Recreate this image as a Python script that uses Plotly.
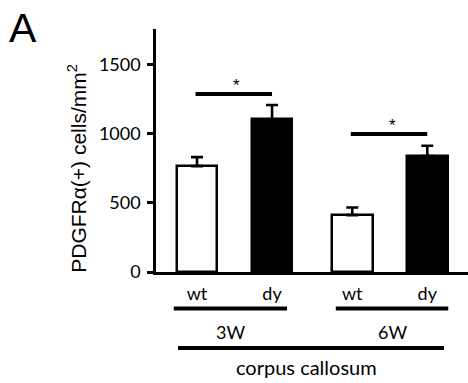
import plotly.graph_objects as go

# ---- data ----
genotypes = ["wt", "dy", "wt", "dy"]
ages = ["3W", "3W", "6W", "6W"]
positions = [0, 1, 2.07, 3.07]
means = [765, 1103, 411, 837]
sem = [65, 103, 55, 75]
fill_colors = ["white", "black", "white", "black"]
y_ticks = [0, 500, 1000, 1500]
region_label = "corpus callosum"
y_title = "PDGFRα(+) cells/mm<sup>2</sup>"
sig_pairs = [(0, 1, 1286), (2, 3, 996)]  # bar index pairs and bracket height (data units)

LBL = "Lato, 'Open Sans', sans-serif"
ARIAL = "'Liberation Sans', Arial, sans-serif"

fig = go.Figure()
fig.add_trace(go.Bar(
    x=positions, y=means, width=0.54,
    marker=dict(color=fill_colors, line=dict(color="black", width=2.5)),
    error_y=dict(type="data", symmetric=False, array=sem, arrayminus=[0] * len(sem),
                 color="black", thickness=2.6, width=6),
    showlegend=False, hoverinfo="skip",
))

shapes = []
annotations = []

# significance brackets
for i, j, h in sig_pairs:
    shapes.append(dict(type="line", xref="x", yref="y", x0=positions[i] - 0.02, x1=positions[j],
                       y0=h, y1=h, line=dict(color="black", width=4)))
    annotations.append(dict(xref="x", yref="y", x=(positions[i] + positions[j]) / 2 + 0.03,
                            y=h + 62, text="*", showarrow=False,
                            font=dict(family=ARIAL, size=17, color="black")))

# age group lines and labels
groups = {}
for a, p in zip(ages, positions):
    groups.setdefault(a, []).append(p)
for k, (a, ps) in enumerate(groups.items()):
    x0 = min(ps) - (0.31 if k == 0 else 0.22)
    x1 = max(ps) + (0.2 if k == 0 else 0.28)
    shapes.append(dict(type="line", xref="x", yref="paper", x0=x0, x1=x1,
                       y0=-0.150, y1=-0.150, line=dict(color="black", width=4)))
    annotations.append(dict(xref="x", yref="paper", x=(x0 + x1) / 2,
                            y=-0.245, text=a, showarrow=False, yanchor="middle",
                            font=dict(family=LBL, size=18, color="black")))

# region line and label
shapes.append(dict(type="line", xref="x", yref="paper", x0=positions[0] - 0.253,
                   x1=positions[-1] + 0.223, y0=-0.313, y1=-0.313,
                   line=dict(color="black", width=4)))
annotations.append(dict(xref="x", yref="paper", x=(positions[0] + positions[-1]) / 2 - 0.07,
                        y=-0.392, text=region_label, showarrow=False, yanchor="middle",
                        font=dict(family=LBL, size=20, color="black")))

# y title
annotations.append(dict(xref="paper", yref="paper", x=-0.253, y=0.425, text=y_title,
                        textangle=-90, showarrow=False, xanchor="center", yanchor="middle",
                        font=dict(family=ARIAL, size=21, color="black")))
# panel letter
annotations.append(dict(xref="paper", yref="paper", x=-0.478, y=1.005, text="A",
                        showarrow=False, xanchor="left", yanchor="middle",
                        font=dict(family=ARIAL, size=41, color="black")))

fig.update_layout(
    width=468, height=383,
    margin=dict(l=156, r=0, t=29, b=111),
    paper_bgcolor="white", plot_bgcolor="white",
    shapes=shapes, annotations=annotations,
    xaxis=dict(range=[-0.547, 3.613], showgrid=False, zeroline=False,
               showline=True, linecolor="black", linewidth=2.5,
               tickvals=positions, ticktext=genotypes, ticks="",
               tickfont=dict(family=LBL, size=18, color="black"),
               ticklabelstandoff=4, fixedrange=True),
    yaxis=dict(range=[0, 1755], showgrid=False, zeroline=False,
               showline=True, linecolor="black", linewidth=2.5,
               tickvals=y_ticks, ticks="outside", ticklen=6, tickwidth=2.5, tickcolor="black",
               tickfont=dict(family=LBL, size=18, color="black"),
               ticklabelstandoff=3, fixedrange=True),
    bargap=0,
)

fig.write_html("out.html")
